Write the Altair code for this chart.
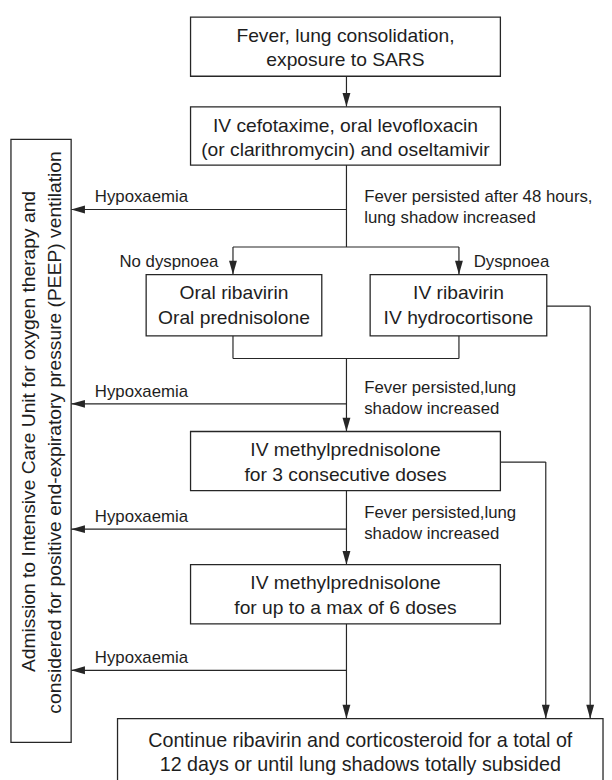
import altair as alt
import pandas as pd

# ---- boxes (left, right, top, bottom) in picture units ----
box_x0 = [193, 193, 148, 375, 193, 193, 119, 11]
box_x1 = [507, 507, 326, 554, 507, 507, 611, 72]
box_y0 = [12, 103, 273, 273, 432, 567, 723, 136]
box_y1 = [72, 162, 335, 335, 492, 627, 800, 747]

# ---- text inside boxes (centred) ----
box_text = [
    "Fever, lung consolidation,", "exposure to SARS",
    "IV cefotaxime, oral levofloxacin", "(or clarithromycin) and oseltamivir",
    "Oral ribavirin", "Oral prednisolone",
    "IV ribavirin", "IV hydrocortisone",
    "IV methylprednisolone", "for 3 consecutive doses",
    "IV methylprednisolone", "for up to a max of 6 doses",
    "Continue ribavirin and corticosteroid for a total of",
    "12 days or until lung shadows totally subsided",
]
box_text_x = [350, 350, 350, 350, 237, 237, 464.5, 464.5, 350, 350, 350, 350, 365, 365]
box_text_y = [37, 62, 128, 153, 298, 323, 298, 323, 457, 482, 592, 617, 752, 776]
box_text_size = [19.5] * 12 + [20, 20]

# ---- side annotations (left aligned) ----
note_text = [
    "Hypoxaemia", "Fever persisted after 48 hours,", "lung shadow increased",
    "No dyspnoea", "Dyspnoea",
    "Hypoxaemia", "Fever persisted,lung", "shadow increased",
    "Hypoxaemia", "Fever persisted,lung", "shadow increased",
    "Hypoxaemia",
]
note_x = [96, 369, 369, 121, 480, 96, 369, 369, 96, 369, 369, 96]
note_y = [199, 199, 221, 265, 265, 397, 393, 414, 524, 520, 541, 667]

# ---- rotated text in the ICU box ----
icu_text = [
    "Admission to Intensive Care Unit for oxygen therapy and",
    "considered for positive end-expiratory pressure (PEEP) ventilation",
]
icu_x = [35, 62]
icu_y = [432, 433]

# ---- connector segments ----
seg_x1 = [351, 351, 72, 236, 236, 465, 236, 465, 236, 351, 72, 554, 598, 507, 553, 351, 72, 351, 72]
seg_y1 = [72, 162, 207, 245, 245, 245, 335, 335, 358, 358, 404, 305, 305, 463, 463, 492, 531, 627, 674]
seg_x2 = [351, 351, 351, 465, 236, 465, 236, 465, 465, 351, 351, 598, 598, 553, 553, 351, 351, 351, 351]
seg_y2 = [103, 245, 207, 245, 273, 273, 358, 358, 358, 432, 404, 305, 723, 463, 723, 567, 531, 723, 674]

# ---- arrow tips ----
down_x = [351, 236, 465, 351, 351, 351, 553, 598]
down_y = [103, 273, 273, 432, 567, 723, 723, 723]
left_x = [72, 72, 72, 72]
left_y = [207, 404, 531, 674]

INK = "#262626"
TXT = "#1e1e1e"
FONT = "Liberation Sans"

xs = alt.Scale(domain=[8, 612], nice=False, zero=False)
ys = alt.Scale(domain=[8, 780], nice=False, zero=False, reverse=True)

boxes = pd.DataFrame({"x0": box_x0, "x1": box_x1, "y0": box_y0, "y1": box_y1})
segs = pd.DataFrame({"x1": seg_x1, "y1": seg_y1, "x2": seg_x2, "y2": seg_y2})
downs = pd.DataFrame({"x": down_x, "y": down_y})
lefts = pd.DataFrame({"x": left_x, "y": left_y})
btxt = pd.DataFrame({"x": box_text_x, "y": box_text_y, "t": box_text, "s": box_text_size})
ntxt = pd.DataFrame({"x": note_x, "y": note_y, "t": note_text})
itxt = pd.DataFrame({"x": icu_x, "y": icu_y, "t": icu_text})

rect_layer = alt.Chart(boxes).mark_rect(
    fill="white", stroke=INK, strokeWidth=1.3
).encode(
    x=alt.X("x0:Q", scale=xs, axis=None),
    x2="x1:Q",
    y=alt.Y("y0:Q", scale=ys, axis=None),
    y2="y1:Q",
)

seg_layer = alt.Chart(segs).mark_rule(color=INK, strokeWidth=1.2).encode(
    x=alt.X("x1:Q", scale=xs, axis=None),
    y=alt.Y("y1:Q", scale=ys, axis=None),
    x2="x2:Q",
    y2="y2:Q",
)

down_layer = alt.Chart(downs).transform_calculate(
    cy="datum.y - 7"
).mark_point(
    shape="M-0.57,-1L0.57,-1L0,1Z", size=196, filled=True, fill=INK,
    stroke=None, opacity=1
).encode(
    x=alt.X("x:Q", scale=xs, axis=None),
    y=alt.Y("cy:Q", scale=ys, axis=None),
)

left_layer = alt.Chart(lefts).transform_calculate(
    cx="datum.x + 7"
).mark_point(
    shape="M1,-0.57L1,0.57L-1,0Z", size=196, filled=True, fill=INK,
    stroke=None, opacity=1
).encode(
    x=alt.X("cx:Q", scale=xs, axis=None),
    y=alt.Y("y:Q", scale=ys, axis=None),
)

btxt_layer = alt.Chart(btxt).mark_text(
    font=FONT, align="center", baseline="alphabetic", color=TXT
).encode(
    x=alt.X("x:Q", scale=xs, axis=None),
    y=alt.Y("y:Q", scale=ys, axis=None),
    size=alt.Size("s:Q", scale=None, legend=None),
    text="t:N",
)

ntxt_layer = alt.Chart(ntxt).mark_text(
    font=FONT, fontSize=17, align="left", baseline="alphabetic", color=TXT
).encode(
    x=alt.X("x:Q", scale=xs, axis=None),
    y=alt.Y("y:Q", scale=ys, axis=None),
    text="t:N",
)

itxt_layer = alt.Chart(itxt).mark_text(
    font=FONT, fontSize=19.5, align="center", baseline="alphabetic", angle=270,
    color=TXT
).encode(
    x=alt.X("x:Q", scale=xs, axis=None),
    y=alt.Y("y:Q", scale=ys, axis=None),
    text="t:N",
)

chart = alt.layer(
    seg_layer, rect_layer, down_layer, left_layer, btxt_layer, ntxt_layer, itxt_layer
).properties(
    width=604, height=772, padding=0, autosize=alt.AutoSizeParams(type="none"),
    background="white",
).configure_view(stroke=None)

chart.save("out.html", embed_options={"renderer": "svg", "actions": False})
